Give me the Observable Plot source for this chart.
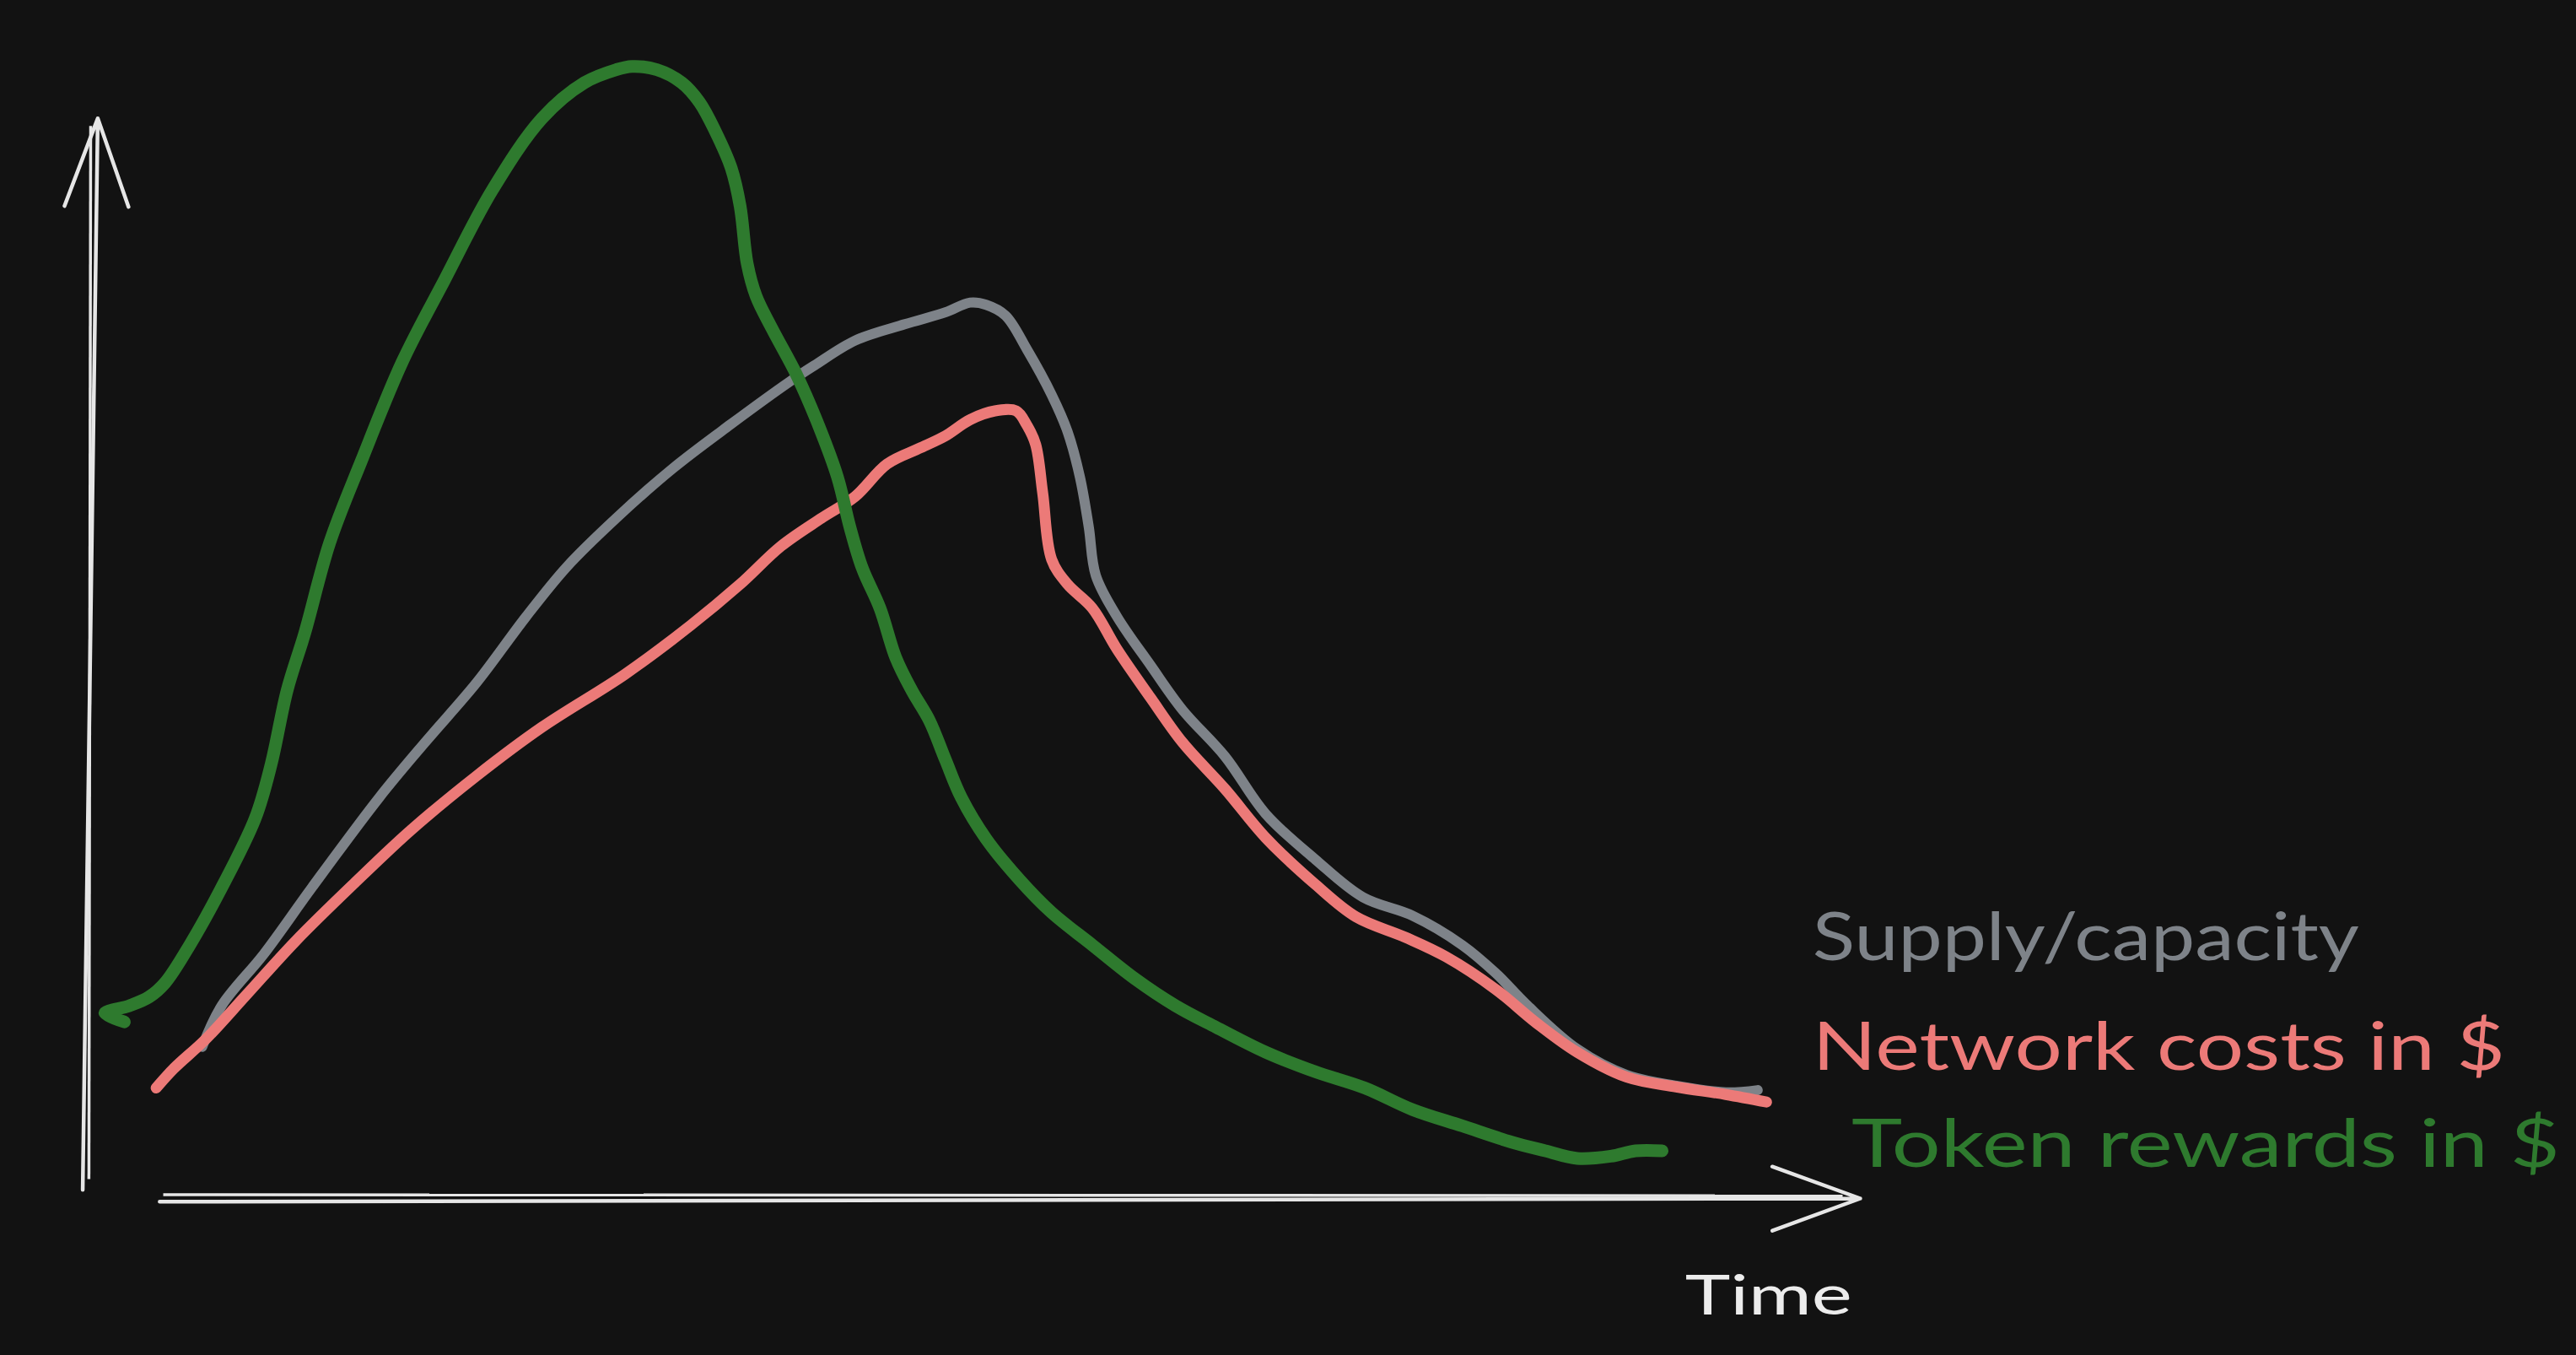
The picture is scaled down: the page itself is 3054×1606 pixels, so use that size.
<!DOCTYPE html>
<html><head><meta charset="utf-8">
<script src="https://cdn.jsdelivr.net/npm/d3@7"></script>
<script src="https://cdn.jsdelivr.net/npm/@observablehq/plot@0.6"></script>
<style>html,body{margin:0;padding:0;background:#121212;overflow:hidden}#chart svg{display:block}</style>
</head><body><div id="chart"></div>
<script>
// Time units 0..100 along the x-axis, value units 0..100 up the y-axis
const tokenTime  = [1.9,0.8,2.2,3.3,4.2,5.6,7.4,9.3,10.2,11.1,12.1,13.5,15.3,17.6,20.0,22.7,25.5,27.9,29.7,30.6,32.0,33.4,34.4,35.3,36.2,36.7,37.1,37.6,38.5,39.9,41.0,42.2,42.9,43.6,44.6,45.5,46.4,47.4,48.3,49.2,50.6,52.5,54.3,56.6,59.0,61.3,63.6,66.4,69.2,72.0,74.7,77.5,80.3,82.2,84.0,85.9,87.3,88.8];
const tokenValue = [16.3,17.1,17.8,18.6,19.9,23.4,28.7,35.1,40.1,46.9,52.2,60.5,68.1,77.2,84.8,93.1,99.7,103.0,104.2,104.5,104.2,103.0,101.2,98.5,95.1,91.6,86.3,83.3,80.3,76.0,71.9,66.6,62.0,58.2,54.5,49.9,46.9,44.1,40.5,37.0,33.2,29.4,26.4,23.4,20.3,17.8,15.8,13.5,11.7,10.2,8.2,6.7,5.2,4.4,3.7,3.9,4.4,4.4];

const supplyTime  = [6.3,7.4,9.8,12.5,16.3,19.0,21.8,24.6,26.9,29.7,32.9,36.2,39.5,40.9,43.2,46.0,48.3,49.7,50.6,51.7,52.9,54.3,55.2,55.9,56.4,56.8,58.0,59.9,61.7,64.1,66.4,69.2,71.9,74.7,77.5,79.4,81.2,84.0,86.8,89.6,92.4,94.2];
const supplyValue = [14.0,17.8,22.6,28.7,37.0,42.3,47.6,53.7,58.3,62.8,67.4,71.5,75.4,76.9,79.2,80.7,81.8,82.7,82.5,81.5,78.4,74.2,70.8,66.6,62.0,57.5,53.7,49.2,45.1,40.8,35.5,31.3,27.8,26.1,23.4,20.8,17.8,13.8,11.4,10.4,9.8,10.0];

const costTime  = [3.7,4.7,6.5,8.8,11.6,14.9,18.1,21.8,25.5,30.2,33.9,36.7,39.0,41.3,43.2,45.0,46.9,48.3,49.7,51.1,52.3,52.9,53.4,53.8,54.3,55.2,56.6,58.0,59.9,61.7,64.1,66.4,69.2,71.5,74.3,76.6,79.4,81.7,84.0,86.8,89.6,92.4,94.7];
const costValue = [10.2,12.0,14.7,18.8,23.8,29.1,34.0,39.0,43.5,48.4,52.9,56.7,60.2,62.8,64.8,67.8,69.3,70.4,71.9,72.7,72.7,71.4,69.6,65.1,59.0,56.7,54.5,50.7,46.2,42.1,37.8,33.3,29.0,26.0,24.1,22.3,19.3,16.2,13.5,11.2,10.3,9.6,8.9];

const seriesNames = ["Supply/capacity", "Network costs in $", "Token rewards in $"];
const labelTime  = [97.3, 97.3, 99.5];
const labelValue = [22.0, 11.9, 2.9];
const axisTitle = "Time";
const axisTitleTime = 90.1, axisTitleValue = -10.7;

// styles
const colors = {"Supply/capacity": "#7e8389", "Network costs in $": "#ec7a78", "Token rewards in $": "#2e7a2e"};
const widths = {"Supply/capacity": 12, "Network costs in $": 13, "Token rewards in $": 15};
const labelLengths = [648, 821, 840];
const axisColor = "#e6e6e6";
const font = "Lato, 'Open Sans', sans-serif";

const rows = [];
tokenTime.forEach((t, i) => rows.push({series: seriesNames[2], t, v: tokenValue[i]}));
supplyTime.forEach((t, i) => rows.push({series: seriesNames[0], t, v: supplyValue[i]}));
costTime.forEach((t, i) => rows.push({series: seriesNames[1], t, v: costValue[i]}));

const labels = seriesNames.map((name, i) => ({name, t: labelTime[i], v: labelValue[i]}));

const chart = Plot.plot({
  width: 3054, height: 1606,
  marginLeft: 107, marginRight: 849, marginTop: 136, marginBottom: 186,
  x: {domain: [0, 100], axis: null},
  y: {domain: [0, 100], axis: null},
  style: {background: "#121212", fontFamily: font},
  marks: [
    // y axis (double sketch line with arrow head)
    Plot.arrow([{x1: -0.45, y1: 0.8, x2: 0.4, y2: 99.7}], {x1: "x1", y1: "y1", x2: "x2", y2: "y2", stroke: axisColor, strokeWidth: 4.5, headAngle: 40, headLength: 37}),
    Plot.link([{x1: -0.1, y1: 1.8, x2: 0.0, y2: 99.0}], {x1: "x1", y1: "y1", x2: "x2", y2: "y2", stroke: axisColor, strokeWidth: 3.5}),
    // x axis
    Plot.arrow([{x1: 3.9, y1: -0.3, x2: 100, y2: 0}], {x1: "x1", y1: "y1", x2: "x2", y2: "y2", stroke: axisColor, strokeWidth: 4.5, headAngle: 40, headLength: 37}),
    Plot.link([{x1: 4.1, y1: 0.35, x2: 99, y2: 0.25}], {x1: "x1", y1: "y1", x2: "x2", y2: "y2", stroke: axisColor, strokeWidth: 3.5}),
    // series
    ...seriesNames.map(name => Plot.line(rows.filter(d => d.series === name), {
      x: "t", y: "v", stroke: colors[name], strokeWidth: widths[name],
      curve: "catmull-rom", strokeLinecap: "round", strokeLinejoin: "round"
    })),
    // labels
    Plot.text(labels, {x: "t", y: "v", text: "name", fill: d => colors[d.name], fontSize: 80, textAnchor: "start", lineAnchor: "bottom"}),
    Plot.text([{t: axisTitleTime, v: axisTitleValue, s: axisTitle}], {x: "t", y: "v", text: "s", fill: "#ececec", fontSize: 66, textAnchor: "start", lineAnchor: "bottom"})
  ]
});

document.getElementById("chart").appendChild(chart);

// stretch label text to hand-lettered widths
const texts = chart.querySelectorAll("text");
const lengths = [...labelLengths, 198];
texts.forEach((el, i) => {
  if (i < lengths.length) {
    el.setAttribute("textLength", lengths[i]);
    el.setAttribute("lengthAdjust", "spacingAndGlyphs");
  }
});
</script>
</body></html>
